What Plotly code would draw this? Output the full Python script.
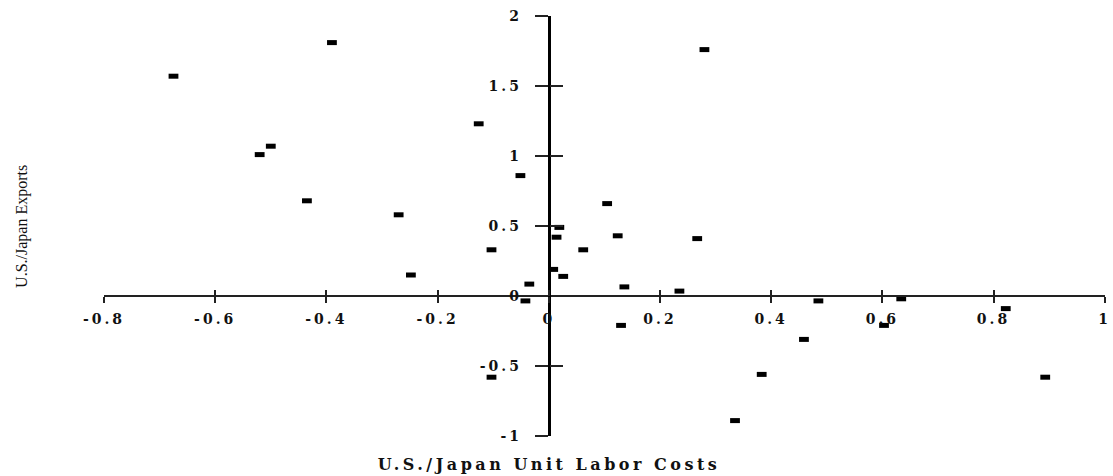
import plotly.graph_objects as go

# Data
labor_costs = [-0.675, -0.39, -0.50, -0.52, -0.435, -0.27, -0.248, -0.126, -0.051, -0.103,
               -0.103, -0.035, -0.042, 0.008, 0.026, 0.014, 0.019, 0.062, 0.105, 0.124,
               0.136, 0.13, 0.235, 0.267, 0.28, 0.335, 0.383, 0.459, 0.485, 0.603,
               0.634, 0.822, 0.893]
exports = [1.57, 1.81, 1.07, 1.01, 0.68, 0.58, 0.15, 1.23, 0.86, 0.33,
           -0.58, 0.085, -0.035, 0.19, 0.14, 0.42, 0.49, 0.33, 0.66, 0.43,
           0.065, -0.21, 0.035, 0.41, 1.76, -0.89, -0.56, -0.31, -0.035, -0.21,
           -0.02, -0.09, -0.58]

x_ticks = [-0.8, -0.6, -0.4, -0.2, 0, 0.2, 0.4, 0.6, 0.8, 1]
x_labels = ["-0.8", "-0.6", "-0.4", "-0.2", "0", "0.2", "0.4", "0.6", "0.8", "1"]
y_ticks = [-1, -0.5, 0, 0.5, 1, 1.5, 2]
y_labels = ["-1", "-0.5", "0", "0.5", "1", "1.5", "2"]

x_range = [-0.8, 1.0005]
y_range = [-1.0, 2.0]
x_pos = (0 - y_range[0]) / (y_range[1] - y_range[0])   # where y=0 sits
y_pos = (0 - x_range[0]) / (x_range[1] - x_range[0])   # where x=0 sits

tick_font = dict(family="DejaVu Serif", size=14, color="#111", weight="bold")

fig = go.Figure()
fig.add_trace(go.Scatter(
    x=labor_costs, y=exports, mode="markers",
    marker=dict(symbol="line-ew", size=7, line=dict(width=5, color="black"), color="black"),
    showlegend=False, hoverinfo="skip"))
fig.add_trace(go.Scatter(x=[None], y=[None], xaxis="x2", yaxis="y2",
                         showlegend=False, hoverinfo="skip"))

fig.update_layout(
    width=1113, height=476,
    margin=dict(l=104, r=8, t=16, b=40, autoexpand=False),
    paper_bgcolor="white", plot_bgcolor="white",
    xaxis=dict(range=x_range, anchor="free", position=x_pos, showgrid=False, zeroline=False,
               automargin=False, showline=True, linecolor="#222", linewidth=2,
               tickmode="array", tickvals=x_ticks, ticktext=x_labels,
               ticks="outside", ticklen=6, tickwidth=2, tickcolor="#222",
               tickfont=tick_font, ticklabelstandoff=4, ticklabeloverflow="allow"),
    yaxis=dict(range=y_range, anchor="free", position=y_pos, showgrid=False, zeroline=False,
               automargin=False, showline=True, linecolor="black", linewidth=3,
               tickmode="array", tickvals=y_ticks, ticktext=y_labels,
               ticks="outside", ticklen=13, tickwidth=1.5, tickcolor="#222",
               tickfont=tick_font, ticklabelstandoff=10, ticklabeloverflow="allow"),
    xaxis2=dict(range=x_range, overlaying="x", anchor="free", position=x_pos, automargin=False,
                showgrid=False, zeroline=False, showline=False,
                tickmode="array", tickvals=x_ticks, ticks="inside", ticklen=6,
                tickwidth=2, tickcolor="#222", showticklabels=False),
    yaxis2=dict(range=y_range, overlaying="y", anchor="free", position=y_pos, automargin=False,
                showgrid=False, zeroline=False, showline=False,
                tickmode="array", tickvals=[v for v in y_ticks if v != 0], ticks="inside", ticklen=13,
                tickwidth=1.5, tickcolor="#222", showticklabels=False),
    annotations=[
        dict(text="<b>U.S./Japan Unit Labor Costs</b>", xref="x", x=0, yref="paper", y=-0.069,
             xanchor="center", yanchor="middle", showarrow=False,
             font=dict(family="DejaVu Serif", size=16, color="#111")),
        dict(text="U.S./Japan Exports", xref="paper", x=-0.082, yref="y", y=0.5,
             xanchor="center", yanchor="middle", showarrow=False, textangle=-90,
             font=dict(family="Liberation Serif", size=16, color="#111")),
    ],
)

post = """
document.body.style.margin = '0';
var gd = document.getElementById('{plot_id}');
function spacing(){
  gd.querySelectorAll('.xtick text, .ytick text').forEach(function(t){ t.style.letterSpacing = '3px'; });
  gd.querySelectorAll('.annotation-text').forEach(function(t){
    if (t.textContent.indexOf('Labor') >= 0) { t.style.letterSpacing = '3.5px'; }
  });
}
spacing();
gd.on('plotly_afterplot', spacing);
"""

fig.write_html("out.html", post_script=post, config={"displayModeBar": False})
